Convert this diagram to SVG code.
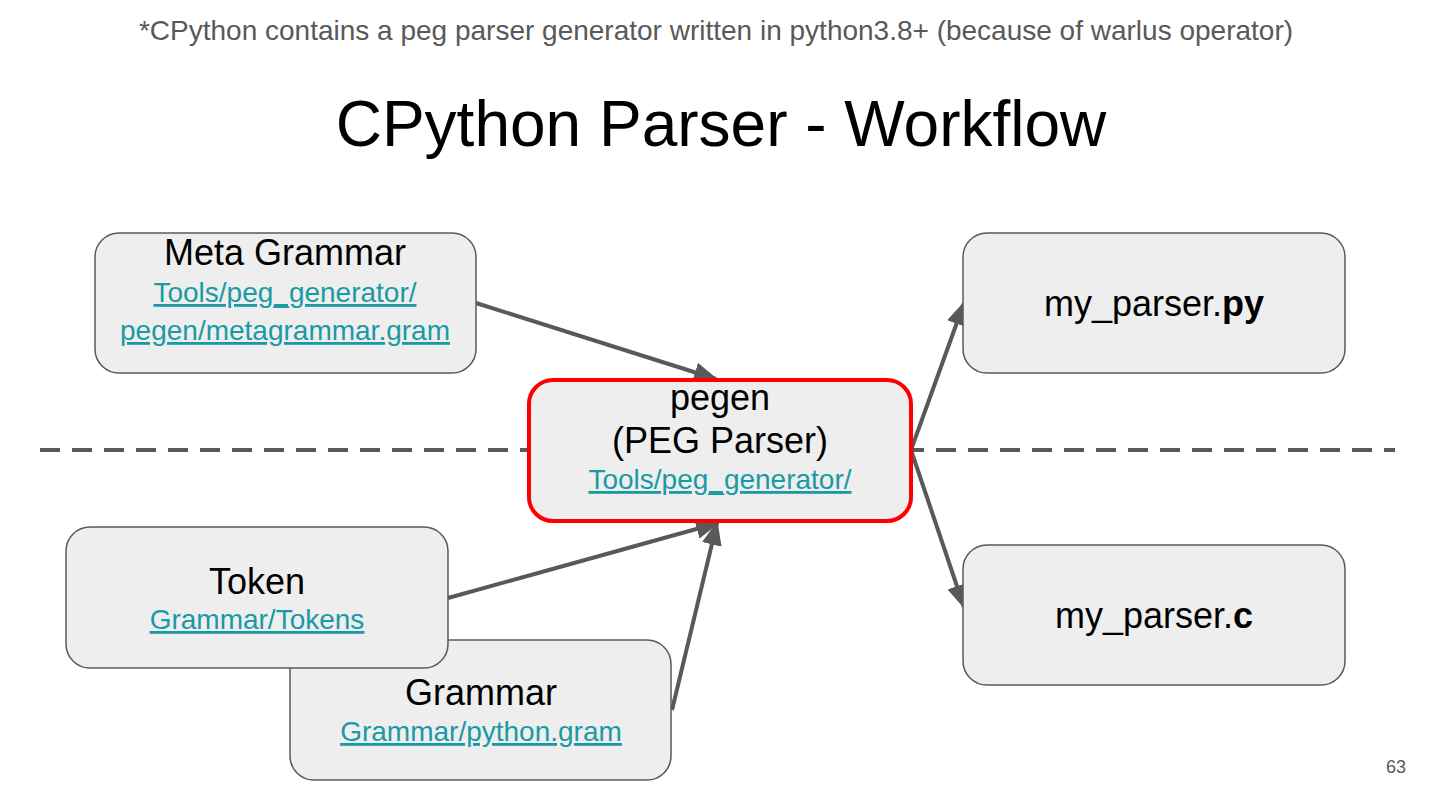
<svg xmlns="http://www.w3.org/2000/svg" width="1440" height="810" viewBox="0 0 1440 810">
<style>
.box{fill:#eeeeee;stroke:#595959;stroke-width:1.5}
.hl{fill:#eeeeee;stroke:#ff0000;stroke-width:4}
.t{font-family:"Liberation Sans",Arial,sans-serif;fill:#000;text-anchor:middle}
.n{font-size:36px}
.lk{font-size:28px;fill:#1a9aa4;text-decoration:underline}
.edge{stroke:#595959;stroke-width:4;fill:none}
</style>
<defs>
<marker id="ah" markerWidth="24" markerHeight="20" refX="22" refY="10" orient="auto" markerUnits="userSpaceOnUse">
<path d="M0,0 L24,10 L0,20 Z" fill="#595959"/>
</marker>
</defs>
<rect width="1440" height="810" fill="#ffffff"/>
<text class="t" x="716" y="40" style="font-size:28px;fill:#595959">*CPython contains a peg parser generator written in python3.8+ (because of warlus operator)</text>
<text class="t" x="721" y="146" style="font-size:64px">CPython Parser - Workflow</text>
<line x1="40" y1="450" x2="1395" y2="450" stroke="#595959" stroke-width="4" stroke-dasharray="20,12"/>
<g id="connectors">
<line class="edge" x1="476" y1="303" x2="716" y2="379" marker-end="url(#ah)"/>
<line class="edge" x1="448" y1="598" x2="718" y2="523" marker-end="url(#ah)"/>
<line class="edge" x1="672" y1="710" x2="717" y2="523" marker-end="url(#ah)"/>
<line class="edge" x1="911" y1="450" x2="964" y2="303" marker-end="url(#ah)"/>
<line class="edge" x1="911" y1="450" x2="964" y2="607" marker-end="url(#ah)"/>
</g>
<g id="meta">
<rect class="box" x="95" y="233" width="381" height="140" rx="24"/>
<text class="t n" x="285" y="265">Meta Grammar</text>
<text class="t lk" x="285" y="302">Tools/peg_generator/</text>
<text class="t lk" x="285" y="340">pegen/metagrammar.gram</text>
</g>
<g id="pegen">
<rect class="hl" x="529" y="380" width="382" height="141" rx="24"/>
<text class="t n" x="720" y="410">pegen</text>
<text class="t n" x="720" y="453">(PEG Parser)</text>
<text class="t lk" x="720" y="489">Tools/peg_generator/</text>
</g>
<g id="grammar">
<rect class="box" x="290" y="640" width="381" height="140" rx="24"/>
<text class="t n" x="481" y="705">Grammar</text>
<text class="t lk" x="481" y="741">Grammar/python.gram</text>
</g>
<g id="token">
<rect class="box" x="66" y="527" width="382" height="141" rx="24"/>
<text class="t n" x="257" y="594">Token</text>
<text class="t lk" x="257" y="629">Grammar/Tokens</text>
</g>
<g id="py">
<rect class="box" x="963" y="233" width="382" height="140" rx="24"/>
<text class="t n" x="1154" y="316">my_parser.<tspan font-weight="bold">py</tspan></text>
</g>
<g id="c">
<rect class="box" x="963" y="545" width="382" height="140" rx="24"/>
<text class="t n" x="1154" y="628">my_parser.<tspan font-weight="bold">c</tspan></text>
</g>
<text class="t" x="1396" y="773" style="font-size:18px;fill:#595959">63</text>
</svg>
